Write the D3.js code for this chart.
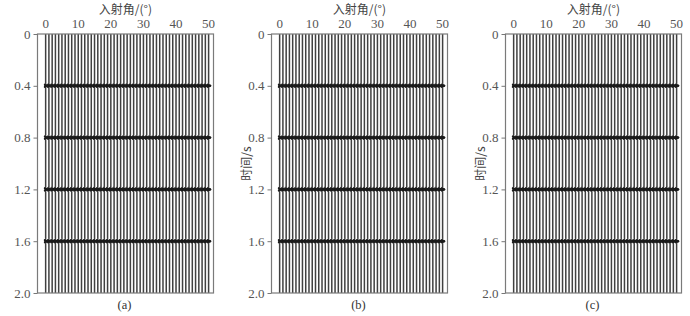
<!DOCTYPE html>
<html><head><meta charset="utf-8">
<script src="https://cdn.jsdelivr.net/npm/d3@7"></script>
<style>body{margin:0;background:#fff}svg{display:block}
svg text.sf{font-family:"Liberation Serif","DejaVu Serif",serif}
svg text.cj{font-family:"Noto Sans CJK SC",sans-serif}
</style>
</head><body>
<svg id="c" width="690" height="316"></svg>
<script>
// ---- data ----
const angles = [0,1,2,3,4,5,6,7,8,9,10,11,12,13,14,15,16,17,18,19,20,21,22,23,24,25,26,27,28,29,30,31,32,33,34,35,36,37,38,39,40,41,42,43,44,45,46,47,48,49,50];
const reflectorTimes = [0.4, 0.8, 1.2, 1.6];
const panelLabels = ["(a)", "(b)", "(c)"];
const panelAmplitudes = [
  [1.0, 1.0, 1.0, 1.0],
  [1.0, 1.0, 1.0, 1.0],
  [1.0, 1.0, 1.0, 1.0]
];
const xTicks = [0, 10, 20, 30, 40, 50];
const yTicks = [0, 0.4, 0.8, 1.2, 1.6, 2.0];
const xTitle = "入射角/(°)";
const yTitle = "时间/s";
const showYTitle = [false, true, true];

// ---- layout ----
const svg = d3.select("#c");
const panelW = 176, plotTop = 34, plotBottom = 293;
const lefts = [37.5, 271.5, 505.5];

const x = d3.scaleLinear().domain([-2.5, 51.5]).range([0, panelW]);
const y = d3.scaleLinear().domain([0, 2.0]).range([plotTop, plotBottom]);
const ampPx = 1.6;
const f = 45;
function ricker(t){ const a = Math.PI*Math.PI*f*f*t*t; return (1-2*a)*Math.exp(-a); }

panelLabels.forEach((lab, p) => {
  const g = svg.append("g").attr("transform", `translate(${lefts[p]},0)`);
  const times = d3.range(0, 2.0001, 0.001);
  const line = d3.line().x(d => d[0]).y(d => d[1]);
  angles.forEach(a => {
    const pts = times.map(t => {
      let s = 0;
      reflectorTimes.forEach((rt, i) => { s += panelAmplitudes[p][i] * ricker(t - rt); });
      return [x(a) + ampPx * s, y(t)];
    });
    g.append("path").attr("d", line(pts)).attr("fill", "none")
      .attr("stroke", "#404040").attr("stroke-width", 1.5);
    reflectorTimes.forEach((rt, i) => {
      const seg = d3.range(rt - 0.012, rt + 0.0121, 0.001).map(t => [x(a) + ampPx * panelAmplitudes[p][i] * ricker(t - rt), y(t)]);
      g.append("path").attr("d", line(seg)).attr("fill", "none")
        .attr("stroke", "#1a1a1a").attr("stroke-width", 2.2);
    });
  });
  g.append("rect").attr("x", 0).attr("y", plotTop).attr("width", panelW).attr("height", plotBottom - plotTop)
    .attr("fill", "none").attr("stroke", "#7a7a7a").attr("stroke-width", 1.2);
  g.selectAll(".xt").data(xTicks).enter().append("text").attr("class", "sf")
    .attr("x", d => x(d)).attr("y", 28).attr("text-anchor", "middle")
    .attr("font-size", 13).attr("fill", "#555").text(d => d);
  g.append("text").attr("class", "cj").attr("x", panelW/2).attr("y", 14).attr("text-anchor", "middle")
    .attr("font-size", 12).attr("fill", "#444").text(xTitle);
  const yAxis = d3.axisLeft(y).tickValues(yTicks).tickFormat(d => d === 0 ? "0" : d3.format(".1f")(d)).tickSize(4).tickPadding(3);
  const ya = g.append("g").call(yAxis);
  ya.attr("font-family", null).attr("font-size", null);
  ya.select(".domain").remove();
  ya.selectAll("line").attr("stroke", "#777");
  ya.selectAll("text").attr("class", "sf").attr("font-size", 13).attr("fill", "#555");
  if (showYTitle[p]) {
    g.append("text").attr("class", "cj").attr("transform", `translate(-21,${(plotTop+plotBottom)/2}) rotate(-90)`)
      .attr("text-anchor", "middle").attr("font-size", 12).attr("fill", "#444").text(yTitle);
  }
  g.append("text").attr("class", "sf").attr("x", panelW/2 - 1).attr("y", 309).attr("text-anchor", "middle")
    .attr("font-size", 12.5).attr("fill", "#333").text(lab);
});
</script>
</body></html>
